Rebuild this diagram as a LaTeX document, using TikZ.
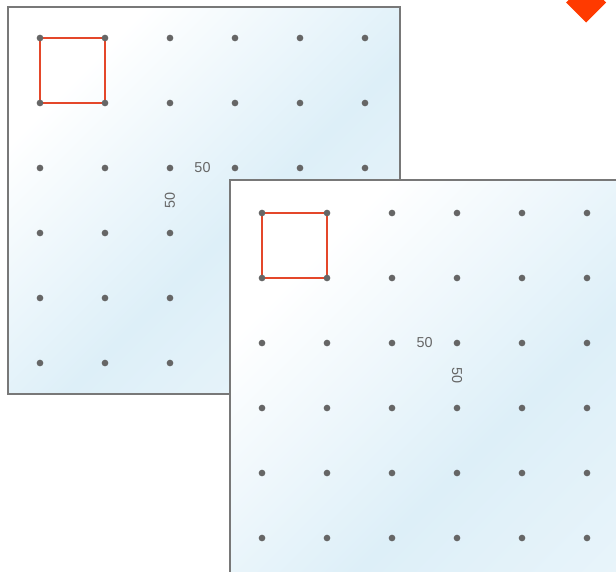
\documentclass[tikz,border=0pt]{standalone}
\usepackage{fontspec}
\setmainfont{Liberation Sans}
\definecolor{borde}{HTML}{787878}
\definecolor{gris}{HTML}{666666}
\definecolor{rojo}{HTML}{E4472A}
\definecolor{vidrio}{HTML}{DDEFF8}
\definecolor{naranja}{HTML}{FF3A00}
\pgfdeclarehorizontalshading{vidrio}{100bp}{color(0bp)=(white); color(27bp)=(white); color(55bp)=(vidrio); color(80bp)=(vidrio!60!white); color(100bp)=(vidrio!60!white)}
\begin{document}
\begin{tikzpicture}[x=0.75pt,y=-0.75pt,
    punto/.style={circle,fill=gris,inner sep=0pt,minimum size=5pt},
    panel/.style={draw=borde,line width=1.5pt,shading=vidrio,shading angle=-45},
    cuadro/.style={draw=rojo,line width=1.6pt},
    etiqueta/.style={text=gris,font=\fontsize{10.8}{12}\selectfont,inner sep=1pt}]
  \clip (0,0) rectangle (616,571);
  \useasboundingbox (0,0) rectangle (616,571);

  % Primer panel
  \coordinate (A) at (7.5,6.5);
  \shade[panel] (A) rectangle (400,394);
  \foreach \i in {0,...,5}
    \foreach \j in {0,...,5}
      \coordinate (c1-\i-\j) at (40+65*\i,38+65*\j);
  \draw[cuadro] (c1-0-0) rectangle (c1-1-1);
  \foreach \i in {0,...,5}
    \foreach \j in {0,...,5}
      \node[punto] (p1-\i-\j) at (c1-\i-\j) {};
  \path (p1-2-2) -- (p1-3-2) node[midway,etiqueta] (h1) {50};
  \path (p1-2-2) -- (p1-2-3) node[midway,etiqueta,rotate=90] (v1) {50};

  % Segundo panel
  \coordinate (B) at (230,179.5);
  \shade[panel] (B) rectangle (680,640);
  \foreach \i in {0,...,5}
    \foreach \j in {0,...,5}
      \coordinate (c2-\i-\j) at (262+65*\i,213+65*\j);
  \draw[cuadro] (c2-0-0) rectangle (c2-1-1);
  \foreach \i in {0,...,5}
    \foreach \j in {0,...,5}
      \node[punto] (p2-\i-\j) at (c2-\i-\j) {};
  \path (p2-2-2) -- (p2-3-2) node[midway,etiqueta] (h2) {50};
  \path (p2-3-2) -- (p2-3-3) node[midway,etiqueta,rotate=-90] (v2) {50};

  % Rombo
  \coordinate (R) at (586,2.5);
  \fill[naranja] (R) ++(-20,0) -- ++(20,-20) -- ++(20,20) -- ++(-20,20) -- cycle;
\end{tikzpicture}
\end{document}
